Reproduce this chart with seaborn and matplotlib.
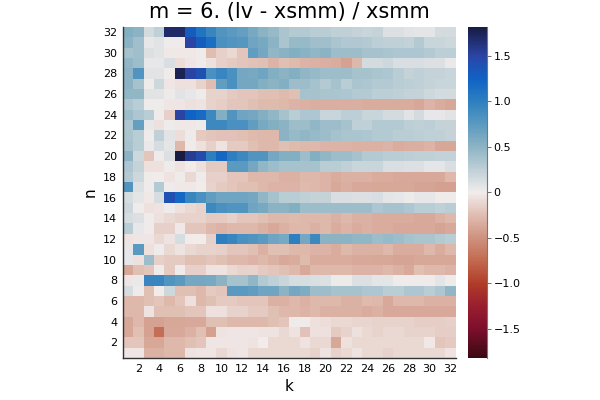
import numpy as np
import pandas as pd
import seaborn as sns
import matplotlib
matplotlib.use("Agg")
import matplotlib.pyplot as plt
from matplotlib.colors import LinearSegmentedColormap

# ejes: k en columnas, n en filas (n=32 arriba)
k_vals = list(range(1, 33))
n_vals = list(range(32, 0, -1))

r32 = [0.55, 0.5, 0.15, 0.25, 1.7, 1.7, 1.3, 1.1, 0.95, 0.8, 0.75, 0.7, 0.6, 0.5, 0.45, 0.35,
       0.3, 0.3, 0.28, 0.28, 0.25, 0.25, 0.22, 0.2, 0.22, 0.1, 0.1, 0.08, 0.06, 0.06, 0.15, 0.15]
r31 = [0.5, 0.4, 0.05, 0.08, 0.0, 0.0, 1.5, 1.3, 1.15, 0.85, 0.8, 0.78, 0.65, 0.6, 0.5, 0.35,
       0.45, 0.45, 0.4, 0.4, 0.35, 0.32, 0.32, 0.3, 0.27, 0.25, 0.25, 0.23, 0.3, 0.2, 0.2, 0.18]
r30 = [0.38, 0.4, 0.1, 0.08, -0.02, -0.02, -0.02, 0.0, -0.25, -0.15, -0.1, -0.2, 0.72, 0.62, 0.48, 0.52,
       0.55, 0.52, 0.47, 0.5, 0.42, 0.42, 0.42, 0.38, 0.38, 0.35, 0.33, 0.33, 0.33, 0.3, 0.27, 0.27]
r29 = [0.48, 0.42, 0.05, 0.05, 0.12, -0.08, -0.03, 0.0, -0.06, -0.15, -0.18, -0.2, -0.22, -0.24, -0.3, -0.24,
       -0.27, -0.3, -0.32, -0.33, -0.35, -0.4, -0.28, 0.15, 0.15, 0.18, 0.12, 0.12, 0.12, 0.1, 0.1, 0.03]
r28 = [0.5, 0.8, 0.08, 0.08, 0.0, 1.75, 1.5, 1.4, 0.85, 0.95, 0.85, 0.62, 0.6, 0.65, 0.55, 0.5,
       0.55, 0.47, 0.45, 0.42, 0.42, 0.42, 0.38, 0.38, 0.35, 0.33, 0.28, 0.22, 0.25, 0.22, 0.22, 0.2]
r27 = [0.5, 0.38, 0.0, 0.18, -0.03, -0.07, -0.07, -0.14, -0.25, 0.72, 0.85, 0.62, 0.62, 0.55, 0.5, 0.55,
       0.42, 0.42, 0.38, 0.3, 0.38, 0.28, 0.35, 0.33, 0.3, 0.3, 0.28, 0.27, 0.25, 0.22, 0.2, 0.2]
r26 = [0.48, 0.48, 0.08, 0.08, 0.02, 0.08, 0.05, 0.0, -0.14, -0.14, -0.18, -0.2, -0.2, -0.24, -0.24, -0.26,
       -0.24, 0.38, 0.38, 0.35, 0.35, 0.33, 0.3, 0.3, 0.27, 0.27, 0.25, 0.22, 0.22, 0.18, 0.15, 0.15]
r25 = [0.33, 0.28, 0.0, 0.0, -0.04, -0.04, -0.07, -0.05, -0.14, -0.17, -0.2, -0.2, -0.24, -0.27, -0.27, -0.28,
       -0.3, -0.32, -0.33, -0.33, -0.33, -0.33, -0.33, -0.35, -0.35, -0.35, -0.35, -0.35, -0.37, -0.3, -0.35, -0.37]
r24 = [0.42, 0.33, 0.28, 0.0, -0.15, 1.5, 1.25, 1.18, 0.92, 0.55, 0.8, 0.65, 0.62, 0.55, 0.47, 0.38,
       0.28, 0.33, 0.33, 0.2, 0.2, 0.26, 0.26, 0.2, 0.2, 0.15, 0.15, 0.08, 0.15, 0.05, 0.05, 0.08]
r23 = [0.33, 0.7, 0.05, -0.07, 0.0, -0.02, -0.02, 0.0, 0.92, 0.92, 0.85, 0.85, 0.72, 0.6, 0.55, 0.5,
       0.42, 0.42, 0.48, 0.42, 0.42, 0.38, 0.25, 0.25, 0.3, 0.3, 0.3, 0.27, 0.25, 0.27, 0.22, 0.22]
r22 = [0.35, 0.28, 0.0, 0.25, 0.08, -0.08, 0.0, -0.18, -0.2, -0.22, -0.22, -0.24, -0.26, -0.28, -0.28, 0.5,
       0.45, 0.47, 0.45, 0.42, 0.38, 0.35, 0.35, 0.33, 0.3, 0.3, 0.28, 0.28, 0.27, 0.25, 0.25, 0.22]
r21 = [0.38, 0.28, 0.04, 0.13, 0.07, -0.28, 0.0, -0.07, -0.15, -0.05, -0.18, -0.18, -0.24, -0.28, -0.28, -0.24,
       -0.27, -0.28, -0.28, -0.3, -0.3, -0.3, -0.32, -0.32, -0.32, -0.3, -0.35, -0.33, -0.33, -0.3, -0.37, -0.37]
r20 = [0.5, 0.18, -0.2, 0.0, 0.1, 1.82, 1.55, 1.45, 1.0, 1.2, 1.0, 0.92, 0.8, 0.8, 0.62, 0.55,
       0.55, 0.42, 0.55, 0.47, 0.42, 0.42, 0.38, 0.3, 0.3, 0.28, 0.28, 0.27, 0.25, 0.25, 0.23, 0.23]
r19 = [0.33, 0.22, -0.07, -0.07, 0.0, -0.05, -0.01, -0.07, -0.18, -0.18, 0.75, 0.75, 0.62, 0.47, 0.42, 0.38,
       0.38, 0.38, 0.38, 0.28, 0.28, 0.25, 0.2, 0.2, 0.2, 0.12, 0.12, 0.1, 0.1, 0.06, 0.06, 0.12]
r18 = [0.3, 0.18, 0.0, -0.01, -0.05, 0.0, -0.1, 0.0, -0.15, -0.15, -0.2, -0.2, -0.28, -0.28, -0.28, -0.32,
       -0.32, -0.28, -0.28, -0.3, -0.35, -0.32, -0.32, -0.32, -0.35, -0.35, -0.36, -0.36, -0.36, -0.36, -0.36, -0.28]
r17 = [0.8, 0.1, 0.0, 0.3, 0.0, -0.02, -0.02, -0.01, -0.14, -0.18, -0.2, -0.24, -0.24, -0.28, -0.3, -0.3,
       -0.3, -0.26, -0.28, -0.3, -0.36, -0.33, -0.36, -0.36, -0.37, -0.37, -0.37, -0.37, -0.39, -0.39, -0.42, -0.42]
r16 = [0.13, 0.06, -0.02, 0.13, 1.4, 1.2, 0.95, 0.85, 0.72, 0.65, 0.65, 0.65, 0.62, 0.47, 0.38, 0.28,
       0.28, 0.25, 0.22, 0.22, 0.12, 0.12, 0.1, 0.1, 0.12, 0.07, 0.05, 0.02, 0.05, 0.05, 0.0, 0.0]
r15 = [0.18, 0.0, -0.07, -0.05, 0.0, -0.07, -0.1, -0.14, 0.92, 0.85, 0.8, 0.8, 0.65, 0.6, 0.5, 0.5,
       0.55, 0.42, 0.42, 0.42, 0.42, 0.42, 0.42, 0.42, 0.33, 0.38, 0.38, 0.33, 0.28, 0.28, 0.25, 0.28]
r14 = [0.13, 0.1, 0.0, -0.07, -0.1, -0.14, -0.14, -0.14, -0.18, -0.18, -0.15, -0.2, -0.2, -0.24, -0.28, -0.28,
       -0.27, -0.28, -0.28, -0.28, -0.32, -0.28, -0.32, -0.32, -0.35, -0.35, -0.35, -0.35, -0.36, -0.36, -0.32, -0.28]
r13 = [0.28, 0.05, 0.0, -0.15, -0.15, -0.02, -0.2, -0.2, -0.28, -0.3, -0.28, -0.28, -0.28, -0.32, -0.36, -0.32,
       -0.28, -0.28, -0.32, -0.28, -0.35, -0.3, -0.35, -0.32, -0.35, -0.35, -0.36, -0.36, -0.36, -0.36, -0.39, -0.36]
r12 = [-0.05, -0.04, -0.03, -0.1, -0.05, 0.13, -0.01, -0.01, -0.15, 1.0, 0.95, 0.85, 0.8, 0.75, 0.65, 0.6,
       1.0, 0.62, 0.92, 0.5, 0.5, 0.5, 0.48, 0.48, 0.42, 0.45, 0.42, 0.38, 0.35, 0.35, 0.3, 0.28]
r11 = [0.05, 0.75, -0.07, 0.0, -0.1, -0.05, -0.1, -0.14, -0.14, -0.15, -0.2, -0.2, -0.24, -0.32, -0.24, -0.24,
       -0.28, -0.28, -0.3, -0.3, -0.35, -0.28, -0.32, -0.32, -0.32, -0.28, -0.35, -0.35, -0.35, -0.28, -0.35, -0.28]
r10 = [0.05, -0.07, 0.42, -0.15, -0.18, -0.18, -0.24, -0.24, -0.2, -0.24, -0.28, -0.28, -0.3, -0.28, -0.32, -0.36,
       -0.35, -0.26, -0.35, -0.35, -0.35, -0.35, -0.36, -0.36, -0.37, -0.37, -0.39, -0.39, -0.37, -0.37, -0.37, -0.37]
r9 = [-0.37, -0.24, -0.2, 0.0, -0.18, 0.0, -0.15, -0.15, -0.05, -0.05, -0.1, -0.14, -0.14, -0.18, -0.2, -0.24,
      -0.28, -0.36, -0.28, -0.28, -0.28, -0.28, -0.3, -0.3, -0.3, -0.28, -0.32, -0.36, -0.24, -0.28, -0.28, -0.3]
r8 = [-0.04, 0.04, 0.95, 0.95, 0.8, 0.75, 0.62, 0.62, 0.6, 0.5, 0.38, 0.38, 0.47, 0.3, 0.25, 0.2,
      0.13, 0.13, 0.12, 0.1, 0.02, 0.02, 0.1, 0.1, 0.06, 0.06, 0.0, 0.0, 0.0, 0.0, 0.06, 0.0]
r7 = [0.13, 0.0, -0.24, -0.01, 0.18, -0.24, -0.24, -0.28, -0.18, -0.2, 0.75, 0.75, 0.72, 0.65, 0.65, 0.5,
      0.62, 0.57, 0.42, 0.42, 0.38, 0.38, 0.38, 0.33, 0.33, 0.28, 0.28, 0.33, 0.33, 0.28, 0.33, 0.47]
r6 = [-0.28, -0.28, -0.24, -0.2, -0.28, -0.2, -0.07, -0.28, -0.24, -0.18, -0.18, -0.2, -0.2, -0.2, -0.32, -0.32,
      -0.28, -0.32, -0.28, -0.28, -0.28, -0.32, -0.32, -0.26, -0.28, -0.36, -0.28, -0.28, -0.28, -0.32, -0.32, -0.32]
r5 = [-0.28, -0.28, -0.05, -0.24, -0.24, -0.24, -0.2, -0.2, -0.07, -0.07, -0.14, -0.14, -0.18, -0.18, -0.24, -0.28,
      -0.28, -0.3, -0.28, -0.32, -0.32, -0.32, -0.32, -0.35, -0.32, -0.36, -0.36, -0.36, -0.36, -0.36, -0.36, -0.36]
r4 = [-0.37, -0.28, -0.4, -0.4, -0.37, -0.37, -0.36, -0.36, -0.24, -0.24, -0.28, -0.28, -0.28, -0.28, -0.24, -0.2,
      0.0, 0.0, -0.06, -0.08, -0.1, -0.1, -0.12, -0.12, -0.14, -0.14, -0.14, -0.14, -0.16, -0.16, -0.17, -0.15]
r3 = [-0.37, -0.24, -0.4, -0.72, -0.36, -0.36, -0.32, -0.24, -0.42, -0.05, -0.04, -0.04, -0.04, -0.05, -0.05, -0.1,
      -0.05, -0.22, -0.06, -0.06, -0.18, -0.14, -0.06, -0.1, -0.14, -0.1, -0.1, -0.14, -0.14, -0.14, -0.17, -0.17]
r2 = [-0.2, -0.2, -0.37, -0.37, -0.28, -0.28, -0.24, -0.2, -0.04, -0.04, -0.04, -0.04, -0.05, -0.01, -0.1, -0.1,
      -0.1, -0.05, -0.1, -0.1, -0.38, -0.06, -0.1, -0.1, -0.1, -0.1, -0.1, -0.1, -0.1, -0.02, -0.2, -0.18]
r1 = [-0.04, -0.04, -0.32, -0.32, -0.28, -0.28, -0.05, -0.04, -0.04, -0.1, -0.05, -0.04, -0.1, -0.1, -0.1, -0.1,
      -0.1, -0.1, -0.14, -0.05, -0.14, -0.1, -0.05, -0.1, -0.1, -0.14, -0.1, -0.1, -0.1, -0.1, -0.1, -0.05]

filas = [r32, r31, r30, r29, r28, r27, r26, r25, r24, r23, r22, r21, r20, r19, r18, r17,
         r16, r15, r14, r13, r12, r11, r10, r9, r8, r7, r6, r5, r4, r3, r2, r1]
df = pd.DataFrame(filas, index=n_vals, columns=k_vals)

# paleta tipo "balance" invertida (rojo negativo, azul positivo)
lim = 1.82
stops = [-1.82, -1.5, -1.25, -1.0, -0.75, -0.5, -0.25, 0.0, 0.25, 0.5, 0.75, 1.0, 1.25, 1.5, 1.82]
colores = ["#3c0912", "#7d0f2d", "#9a1e2e", "#b03d2a", "#c26a4f", "#cf9280", "#e0bdb1", "#f1ecec",
           "#bfd0d7", "#8db4c4", "#5b9ac0", "#2f80bf", "#0e63c5", "#2b45a6", "#181c43"]
cmap = LinearSegmentedColormap.from_list(
    "balance_r", [((s + lim) / (2 * lim), c) for s, c in zip(stops, colores)])

sns.set_style("white")
plt.rcParams.update({"text.color": "black", "axes.labelcolor": "black",
                     "xtick.color": "black", "ytick.color": "black"})
fig = plt.figure(figsize=(6, 4), dpi=100)
ax = fig.add_axes([0.2045, 0.105, 0.555, 0.828])
cax = fig.add_axes([0.7805, 0.105, 0.0307, 0.828])

sns.heatmap(df, ax=ax, cbar_ax=cax, cmap=cmap, vmin=-lim, vmax=lim,
            xticklabels=False, yticklabels=False)

ticks_k = list(range(2, 33, 2))
ax.set_xticks([k - 0.5 for k in ticks_k])
ax.set_xticklabels([str(k) for k in ticks_k], rotation=0, fontsize=8)
ax.set_yticks([32 - n + 0.5 for n in ticks_k])
ax.set_yticklabels([str(n) for n in ticks_k], rotation=0, fontsize=8)
ax.tick_params(length=2, width=0.6, color="#555555", pad=2)
for lado in ["left", "bottom"]:
    ax.spines[lado].set_visible(True)
    ax.spines[lado].set_color("#333333")
    ax.spines[lado].set_linewidth(1.0)
ax.set_xlabel("k", fontsize=11)
ax.set_ylabel("n", fontsize=11)
ax.set_title("m = 6. (lv - xsmm) / xsmm", fontsize=15)

cb_ticks = [1.5, 1.0, 0.5, 0.0, -0.5, -1.0, -1.5]
cax.set_yticks(cb_ticks)
cax.set_yticklabels(["1.5", "1.0", "0.5", "0", "\u22120.5", "\u22121.0", "\u22121.5"], fontsize=8)
cax.tick_params(length=3, width=0.6, color="#555555", pad=2)
cax.spines["right"].set_visible(True)
cax.spines["right"].set_color("#777777")

fig.savefig("out.png", dpi=100)
